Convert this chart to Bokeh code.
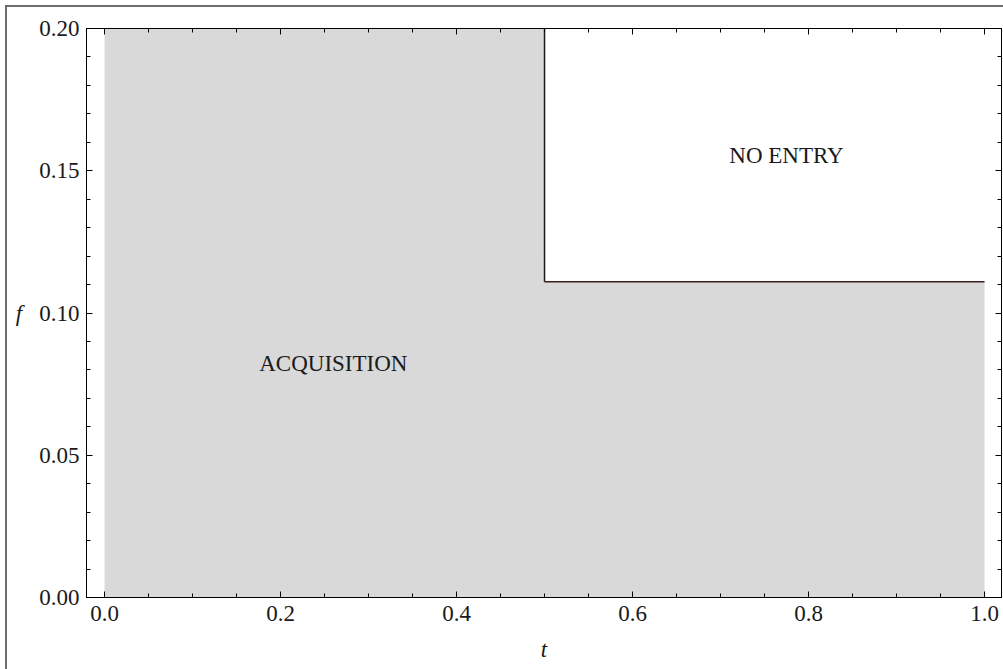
from bokeh.plotting import figure
from bokeh.models import Range1d, FixedTicker, LinearAxis, Label
from bokeh.embed import file_html
from bokeh.resources import INLINE

# Region boundary (upper edge of ACQUISITION region)
boundary_t = [0.0, 0.5, 0.5, 1.0]
boundary_f = [0.2, 0.2, 0.111, 0.111]

# switching lines
vline_t = [0.5, 0.5]
vline_f = [0.111, 0.2]
hline_t = [0.5, 1.0]
hline_f = [0.111, 0.111]

x_ticks = [0.0, 0.2, 0.4, 0.6, 0.8, 1.0]
x_minor = [0.05 * i for i in range(21)]
y_ticks = [0.0, 0.05, 0.10, 0.15, 0.20]
y_minor = [0.01 * i for i in range(21)]

region_labels = ["ACQUISITION", "NO ENTRY"]
label_t = [0.26, 0.775]
label_f = [0.0822, 0.1554]

FONT = "Liberation Serif"

p = figure(width=1003, height=669, output_backend="svg", toolbar_location=None,
           x_range=Range1d(-0.0205, 1.0193), y_range=Range1d(0.0, 0.2),
           min_border_left=86, min_border_right=2, min_border_top=28, min_border_bottom=72,
           x_axis_location=None, y_axis_location=None,
           styles={"box-shadow": "inset 5px 5px 0 0 white, inset 7px 7px 0 0 #6e6e6e",
                   "background-color": "white"})
p.grid.visible = False
p.background_fill_color = "white"
p.border_fill_color = None
p.outline_line_color = "black"
p.outline_line_width = 1

# shaded region
p.patch(boundary_t + [1.0, 0.0], boundary_f + [0.0, 0.0],
        fill_color="#d9d9d9", line_color=None)
p.line(vline_t, vline_f, line_color="#1a1a1a", line_width=1.5)
p.line(hline_t, hline_f, line_color="#3d1f1f", line_width=1.5)

for txt, tx, fy in zip(region_labels, label_t, label_f):
    p.add_layout(Label(x=tx, y=fy, text=txt, text_font=FONT,
                       text_font_size="23px", text_color="#1a1a1a",
                       text_align="center", text_baseline="middle"))


def style_axis(ax, show_labels, ticks, fmt):
    ax.axis_line_color = "black"
    ax.major_tick_line_color = "black"
    ax.minor_tick_line_color = "black"
    ax.major_tick_in = 6
    ax.major_tick_out = 0
    ax.minor_tick_in = 4
    ax.minor_tick_out = 0
    ax.major_label_text_font = FONT
    ax.major_label_text_font_size = "23px"
    ax.major_label_text_color = "#1a1a1a"
    if show_labels:
        ax.major_label_overrides = {v: fmt.format(v) for v in ticks}
    else:
        ax.major_label_overrides = {v: "" for v in ticks}
        ax.major_label_standoff = 0


xt = FixedTicker(ticks=x_ticks, minor_ticks=x_minor)
yt = FixedTicker(ticks=y_ticks, minor_ticks=y_minor)

xb = LinearAxis(ticker=xt, axis_label="t")
style_axis(xb, True, x_ticks, "{:.1f}")
xb.major_label_standoff = 8
xb.axis_label_standoff = 13
xb.axis_label_text_font = FONT
xb.axis_label_text_font_style = "italic"
xb.axis_label_text_font_size = "23px"
xb.axis_label_text_color = "#1a1a1a"
p.add_layout(xb, "below")

yl = LinearAxis(ticker=yt, axis_label="f")
style_axis(yl, True, y_ticks, "{:.2f}")
yl.major_label_standoff = 7
yl.axis_label_standoff = 14
yl.axis_label_orientation = "horizontal"
yl.axis_label_text_font = FONT
yl.axis_label_text_font_style = "italic"
yl.axis_label_text_font_size = "23px"
yl.axis_label_text_color = "#1a1a1a"
p.add_layout(yl, "left")

xtop = LinearAxis(ticker=xt)
style_axis(xtop, False, x_ticks, "")
p.add_layout(xtop, "above")

yright = LinearAxis(ticker=yt)
style_axis(yright, False, y_ticks, "")
p.add_layout(yright, "right")

open("out.html", "w").write(file_html(p, INLINE))
